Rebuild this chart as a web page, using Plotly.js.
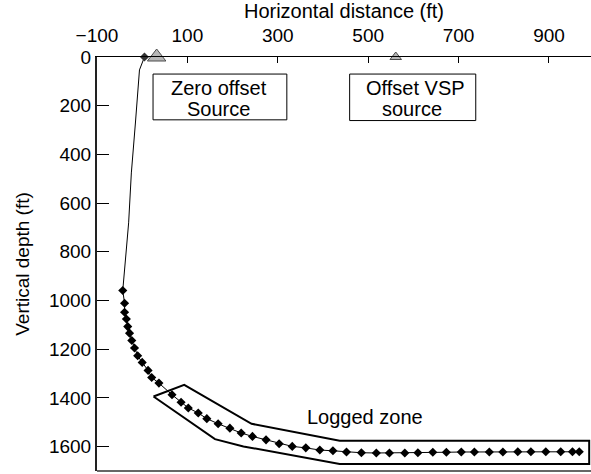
<!DOCTYPE html>
<html>
<head>
<meta charset="utf-8">
<script src="https://cdn.plot.ly/plotly-3.0.1.min.js"></script>
<style>html,body{margin:0;padding:0;background:#fff;}#chart{width:591px;height:474px;}</style>
</head>
<body>
<div id="chart"></div>
<script>
// Well path above the logged stations (horizontal distance ft, vertical depth ft)
const wellX     = [5, -1, -6, -15, -24, -30, -36, -39];
const wellDepth = [0, 30, 53, 271, 476, 681, 819, 888];

// Receiver stations (diamonds)
const stationX = [-43, -39, -39, -35, -32, -28, -23, -17, -10, 0, 13, 21, 37, 66, 86, 102, 124, 143, 168, 194,
                  219, 244, 274, 303, 332, 362, 393, 422, 452, 485, 518, 547, 581, 610, 643, 673, 706, 735,
                  768, 798, 831, 860, 893, 926, 952, 967];
const stationDepth = [959, 1011, 1048, 1076, 1107, 1134, 1164, 1195, 1227, 1254, 1287, 1316, 1339, 1387, 1418,
                      1441, 1462, 1485, 1506, 1524, 1544, 1558, 1572, 1588, 1599, 1605, 1614, 1617, 1622, 1625,
                      1626, 1626, 1626, 1625, 1623, 1623, 1622, 1622, 1622, 1622, 1621, 1621, 1621, 1621, 1621, 1621];

// Logged zone outline
const zoneX     = [25, 93, 242, 437, 989, 989, 437, 224, 161, 25];
const zoneDepth = [1394, 1346, 1506, 1576, 1576, 1671, 1671, 1599, 1569, 1394];

// Sources
const sourceNames = ["Zero offset source", "Offset VSP source"];
const sourceX     = [32, 561];
const sourceDepth = [0, 0];

// Wellhead
const wellheadX = [5];
const wellheadDepth = [0];

// Axis ticks
const xTicks = [-100, 100, 300, 500, 700, 900];
const yTicks = [0, 200, 400, 600, 800, 1000, 1200, 1400, 1600];

const FONT = "Liberation Sans, Arial, sans-serif";

const traces = [
  { type: "scatter", mode: "lines", name: "Zone",
    x: zoneX, y: zoneDepth,
    line: { color: "#000", width: 2 }, hoverinfo: "skip" },
  { type: "scatter", mode: "lines", name: "Well",
    x: wellX.concat(stationX), y: wellDepth.concat(stationDepth),
    line: { color: "#000", width: 1 } },
  { type: "scatter", mode: "markers", name: "Stations",
    x: stationX, y: stationDepth,
    marker: { symbol: "diamond", size: 7, color: "#000" } },
  { type: "scatter", mode: "markers", name: "Wellhead",
    x: wellheadX, y: wellheadDepth, cliponaxis: false,
    marker: { symbol: "diamond", size: 7, color: "#333" } },
  { type: "scatter", mode: "markers", name: "Sources", text: sourceNames,
    x: sourceX, y: sourceDepth, cliponaxis: false,
    marker: { symbol: "triangle-up", size: [16, 10], color: "#999",
              line: { color: "#000", width: 1 } } }
];

const boxLine = { color: "#000", width: 1 };
const layout = {
  width: 591, height: 474,
  margin: { l: 97, r: 0, t: 57, b: 3 },
  paper_bgcolor: "#fff", plot_bgcolor: "#fff",
  showlegend: false,
  font: { family: FONT, color: "#000", size: 19 },
  xaxis: {
    side: "top", range: [-100, 993], automargin: false,
    tickmode: "array", tickvals: xTicks, ticks: "inside", ticklen: 6, tickcolor: "#000", tickwidth: 1,
    ticklabelstandoff: 6,
    showgrid: false, zeroline: false, showline: true, linecolor: "#000", linewidth: 1.5,
    tickfont: { family: FONT, size: 19, color: "#000" },
    title: { text: "Horizontal distance (ft)", standoff: 2, font: { family: FONT, size: 20, color: "#000" } }
  },
  yaxis: {
    range: [1700, 0], automargin: false,
    tickmode: "array", tickvals: yTicks, ticks: "inside", ticklen: 12, tickcolor: "#000", tickwidth: 1,
    showgrid: false, zeroline: false, showline: true, linecolor: "#222", linewidth: 2,
    tickfont: { family: FONT, size: 19, color: "#000" },
    title: { text: "Vertical depth (ft)", standoff: 14, font: { family: FONT, size: 19, color: "#000" } }
  },
  shapes: [
    { type: "line", xref: "paper", yref: "paper", x0: 0, x1: 1, y0: 0, y1: 0, line: { color: "#666", width: 2 } },
    { type: "rect", xref: "x", yref: "y", x0: 24, x1: 320, y0: 70, y1: 258, line: boxLine },
    { type: "rect", xref: "x", yref: "y", x0: 459, x1: 738, y0: 70, y1: 261, line: boxLine }
  ],
  annotations: [
    { xref: "x", yref: "y", x: 170, y: 128, text: "Zero offset", showarrow: false, font: { family: FONT, size: 20, color: "#000" } },
    { xref: "x", yref: "y", x: 168, y: 214, text: "Source", showarrow: false, font: { family: FONT, size: 20, color: "#000" } },
    { xref: "x", yref: "y", x: 604, y: 128, text: "Offset VSP", showarrow: false, font: { family: FONT, size: 20, color: "#000" } },
    { xref: "x", yref: "y", x: 596, y: 214, text: "source", showarrow: false, font: { family: FONT, size: 20, color: "#000" } },
    { xref: "x", yref: "y", x: 494, y: 1478, text: "Logged zone", showarrow: false, font: { family: FONT, size: 20, color: "#000" } }
  ]
};

Plotly.newPlot("chart", traces, layout, { displayModeBar: false, staticPlot: true });
</script>
</body>
</html>
